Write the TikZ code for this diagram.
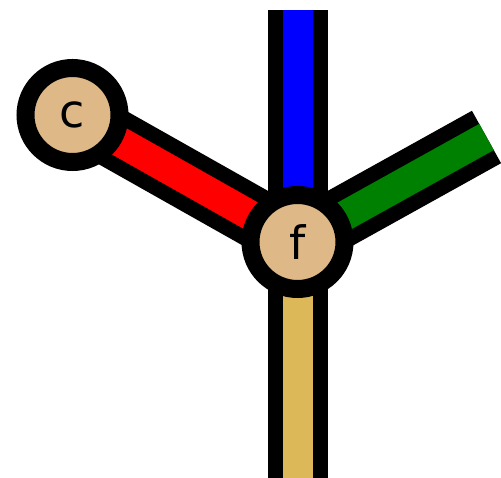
\documentclass[tikz,border=0pt]{standalone}
\usepackage{fontspec}
\setsansfont{DejaVu Sans}
\usetikzlibrary{backgrounds}

\definecolor{nodetan}{RGB}{222,184,135}
\definecolor{wiregold}{RGB}{221,184,88}
\definecolor{wiregreen}{RGB}{0,128,0}

\begin{document}
\begin{tikzpicture}[
        x=1pt, y=-1pt,
        font=\fontsize{46}{46}\selectfont\sffamily,
        vertex/.style={circle, draw=black, line width=18pt, fill=nodetan,
          minimum size=94pt, inner sep=0pt},
        wireout/.style={line width=60pt, draw=black, line cap=butt},
        wirein/.style={line width=30pt, line cap=butt}
      ]

      % Page frame in pixel units of the reference
      \useasboundingbox (0,0) rectangle (501,478);

      % ==================== NODES ====================

      \node (c) [vertex] at (72.5,115) {c};
      \node (f) [vertex] at (297.5,242) {f};

      % free ends of the open wires (bottom one runs off the page)
      \coordinate (top) at (297.5,10);
      \coordinate (bottom) at (297.5,490);
      \coordinate (greenend) at (486.5,137);

      % ==================== WIRES ====================

      \begin{scope}[on background layer]
        \draw [wireout] (c.center) -- (f.center);
        \draw [wirein, red] (c.center) -- (f.center);

        \draw [wireout] (f.center) -- (top);
        \draw [wirein, blue] (f.center) -- (top);

        \draw [wireout] (f.center) -- (greenend);
        \draw [wirein, wiregreen] (f.center) -- (greenend);

        \draw [wireout] (f.center) -- (bottom);
        \draw [wirein, wiregold] (f.center) -- (bottom);
      \end{scope}

    \end{tikzpicture}
\end{document}
